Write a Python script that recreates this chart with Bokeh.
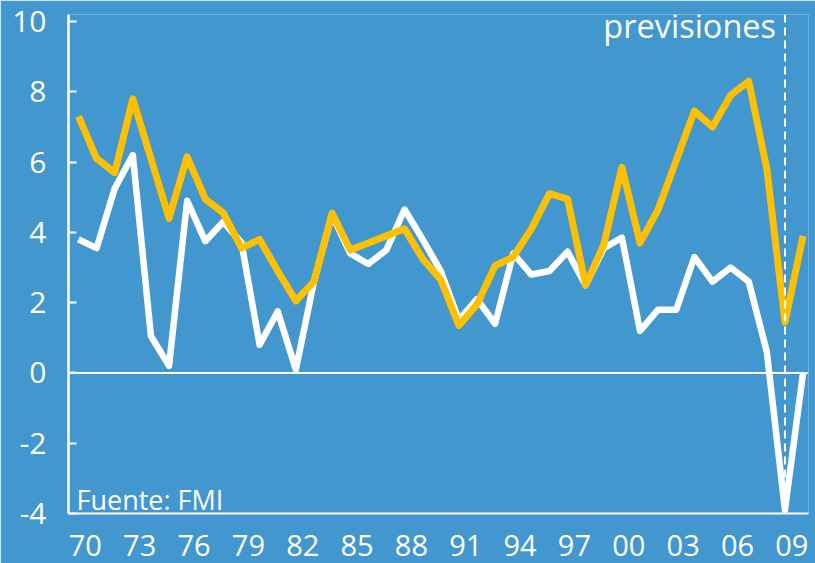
from bokeh.plotting import figure
from bokeh.models import Range1d, FixedTicker, Span
from bokeh.core.properties import value
from bokeh.embed import file_html
from bokeh.resources import INLINE

years = list(range(1970, 2011))
emergentes = [7.3, 6.1, 5.7, 7.8, 6.1, 4.4, 6.15, 4.95, 4.55, 3.55, 3.8, 2.9, 2.05, 2.6,
              4.55, 3.5, 3.7, 3.9, 4.1, 3.25, 2.65, 1.35, 1.95, 3.05, 3.3, 4.1, 5.1, 4.95,
              2.5, 3.65, 5.85, 3.7, 4.65, 6.05, 7.45, 7.0, 7.9, 8.3, 5.8, 1.45, 3.9]
avanzadas = [3.8, 3.55, 5.25, 6.2, 1.05, 0.2, 4.9, 3.75, 4.3, 3.7, 0.8, 1.75, 0.1, 2.6,
             4.5, 3.4, 3.1, 3.5, 4.65, 3.8, 2.9, 1.5, 2.1, 1.4, 3.4, 2.8, 2.9, 3.45,
             2.5, 3.55, 3.85, 1.2, 1.8, 1.8, 3.3, 2.6, 3.0, 2.6, 0.6, -3.9, 0.0]
label_years = list(range(1970, 2010, 3))
tick_labels = ["70", "73", "76", "79", "82", "85", "88", "91", "94", "97", "00", "03", "06", "09"]
y_ticks = [-4, -2, 0, 2, 4, 6, 8, 10]
y_labels = ["-4", "-2", "0", "2", "4", "6", "8", "10"]

BLUE = "#4297CE"
GOLD = "#FFC000"
FONT = "Open Sans"

p = figure(width=815, height=563, output_backend="svg", toolbar_location=None,
           x_range=Range1d(1969.45, 2010.3), y_range=Range1d(-4, 10.2),
           min_border_left=68, min_border_right=7, min_border_top=14, min_border_bottom=50)
p.background_fill_color = BLUE
p.border_fill_color = BLUE
p.outline_line_color = None
p.grid.visible = False

# axes
label_pos = [y + 0.38 for y in label_years]
p.xaxis.ticker = FixedTicker(ticks=label_pos)
p.xaxis.major_label_overrides = {pos: lab for pos, lab in zip(label_pos, tick_labels)}
p.xaxis.major_tick_line_color = None
p.xaxis.minor_tick_line_color = None
p.xaxis.axis_line_color = "white"
p.xaxis.axis_line_width = 2
p.xaxis.major_label_text_color = "white"
p.xaxis.major_label_text_font = FONT
p.xaxis.major_label_text_font_size = "29px"
p.xaxis.major_label_standoff = 15

p.yaxis.ticker = FixedTicker(ticks=y_ticks)
p.yaxis.major_label_overrides = {t: s for t, s in zip(y_ticks, y_labels)}
p.yaxis.minor_tick_line_color = None
p.yaxis.major_tick_in = 8
p.yaxis.major_tick_out = 0
p.yaxis.major_tick_line_color = "white"
p.yaxis.major_tick_line_width = 2
p.yaxis.axis_line_color = "white"
p.yaxis.axis_line_width = 2.5
p.yaxis.major_label_text_color = "white"
p.yaxis.major_label_text_font = FONT
p.yaxis.major_label_text_font_size = "30px"
p.yaxis.major_label_standoff = 22

zero = Span(location=0, dimension="width", line_color="white", line_width=2)
p.add_layout(zero)

p.line(years, avanzadas, line_color="white", line_width=6.5, line_join="round")
p.line(years, emergentes, line_color=GOLD, line_width=7, line_join="round")

prev = Span(location=2009, dimension="height", line_color="white", line_width=2,
            line_dash="8 5")
p.add_layout(prev)

p.text(x=[2008.51], y=[9.88], text=["previsiones"], text_color="white",
       text_font=value(FONT), text_font_size="32.5px", text_align="right",
       text_baseline="middle")
p.text(x=[1969.89], y=[-3.6], text=["Fuente: FMI"], text_color="white",
       text_font=value(FONT), text_font_size="27px", text_align="left",
       text_baseline="middle")

html = file_html(p, INLINE)
html = html.replace("<body>", '<body style="background-color:%s;">' % BLUE, 1)
open("out.html", "w").write(html)
